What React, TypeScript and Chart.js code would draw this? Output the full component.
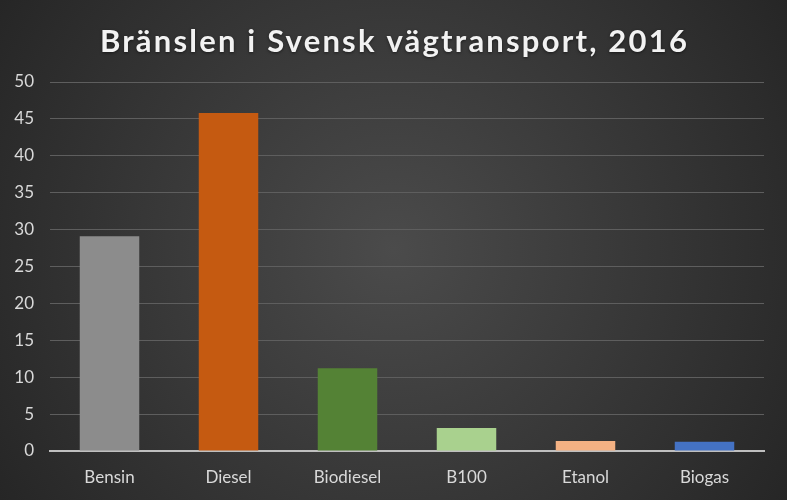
import React, { useEffect, useRef } from "react";
import { Chart, registerables } from "chart.js";

Chart.register(...registerables);

const TITLE = "Bränslen i Svensk vägtransport, 2016";
const categories = ["Bensin", "Diesel", "Biodiesel", "B100", "Etanol", "Biogas"];
const values = [29.1, 45.8, 11.2, 3.1, 1.35, 1.25];
const barColors = ["#8c8c8c", "#c55a11", "#548235", "#a9d18e", "#f4b183", "#4472c4"];
const yTicks = [0, 5, 10, 15, 20, 25, 30, 35, 40, 45, 50];

const bgPlugin = {
  id: "bg",
  beforeDraw(chart: any) {
    const { ctx, width, height } = chart;
    ctx.save();
    const g = ctx.createRadialGradient(width / 2, height / 2, 0, width / 2, height / 2, Math.hypot(width, height) / 2);
    g.addColorStop(0, "#4b4b4b");
    g.addColorStop(1, "#262626");
    ctx.fillStyle = g;
    ctx.fillRect(0, 0, width, height);
    ctx.restore();
  },
};

const titlePlugin = {
  id: "customTitle",
  afterDraw(chart: any) {
    const { ctx, width } = chart;
    ctx.save();
    ctx.font = "bold 31px Lato, 'Open Sans', sans-serif";
    (ctx as any).letterSpacing = "2.2px";
    ctx.fillStyle = "#f2f2f2";
    ctx.textAlign = "center";
    ctx.textBaseline = "alphabetic";
    ctx.shadowColor = "rgba(0,0,0,0.5)";
    ctx.shadowBlur = 3;
    ctx.shadowOffsetY = 1;
    ctx.fillText(TITLE, width / 2 + 1, 52);
    ctx.restore();
  },
};

const tickFont = { family: "Lato, 'Open Sans', sans-serif", size: 17 };

export default function App() {
  const ref = useRef<HTMLCanvasElement>(null);
  useEffect(() => {
    document.body.style.margin = "0";
    const chart = new Chart(ref.current!, {
      type: "bar",
      data: {
        labels: categories,
        datasets: [
          {
            data: values,
            backgroundColor: barColors,
            borderWidth: 0,
            barPercentage: 0.5,
            categoryPercentage: 1,
          },
        ],
      },
      options: {
        animation: false,
        responsive: false,
        maintainAspectRatio: false,
        layout: { padding: { top: 82, left: 0, right: 23, bottom: 6 } },
        plugins: { legend: { display: false }, tooltip: { enabled: false }, title: { display: false } },
        scales: {
          x: {
            grid: { display: false },
            border: { display: true, color: "#bfbfbf", width: 2 },
            ticks: { color: "#d9d9d9", font: tickFont, padding: 8 },
            afterFit(s: any) { s.height = 43; },
          },
          y: {
            min: 0,
            max: 50,
            afterBuildTicks(s: any) { s.ticks = yTicks.map((v) => ({ value: v })); },
            grid: { color: "#5e5e5e", lineWidth: 1, drawTicks: false },
            border: { display: false },
            ticks: { color: "#d9d9d9", font: tickFont, padding: 16 },
            afterFit(s: any) { s.width = 50; },
          },
        },
      },
      plugins: [bgPlugin, titlePlugin],
    });
    return () => chart.destroy();
  }, []);
  return (
    <div style={{ position: "absolute", left: 0, top: 0, width: 787, height: 500 }}>
      <canvas ref={ref} width={787} height={500} style={{ width: 787, height: 500 }} />
    </div>
  );
}
